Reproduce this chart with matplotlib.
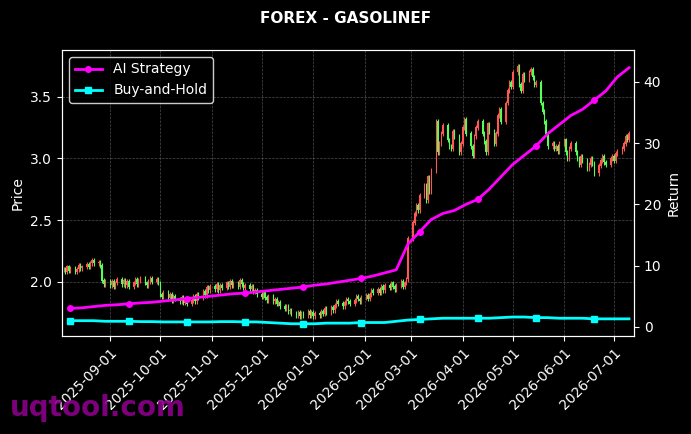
import numpy as np
import pandas as pd
import matplotlib
matplotlib.use("Agg")
import matplotlib.pyplot as plt
import matplotlib.dates as mdates

# daily closes, one row per week (Mon..Fri), starting 2025-08-04
closes = [
    2.10, 2.08, 2.12, 2.09, 2.11,  2.08, 2.10, 2.13, 2.11, 2.12,
    2.14, 2.12, 2.15, 2.17, 2.15,  2.16, 2.13, 2.01, 1.98, 2.00,
    1.97, 2.00, 1.96, 1.99, 2.02,  1.98, 2.01, 1.97, 2.00, 1.96,
    1.99, 2.02, 1.98, 2.01, 2.03,  1.99, 1.97, 2.00, 2.03, 2.00,
    2.02, 1.99, 1.90, 1.88, 1.91,  1.87, 1.90, 1.85, 1.88, 1.86,
    1.84, 1.87, 1.83, 1.86, 1.82,  1.85, 1.88, 1.84, 1.90, 1.87,
    1.92, 1.89, 1.95, 1.93, 1.96,  1.94, 1.98, 1.93, 1.97, 1.95,
    1.99, 1.96, 2.00, 1.97, 1.99,  1.96, 2.01, 1.98, 1.95, 1.97,
    1.94, 1.96, 1.92, 1.93, 1.90,  1.88, 1.91, 1.87, 1.85, 1.88,
    1.84, 1.86, 1.82, 1.83, 1.80,  1.78, 1.80, 1.76, 1.77, 1.74,
    1.73, 1.75, 1.72, 1.74, 1.73,  1.76, 1.73, 1.75, 1.72, 1.74,
    1.73, 1.76, 1.74, 1.78, 1.75,  1.79, 1.77, 1.81, 1.84, 1.82,
    1.80, 1.83, 1.86, 1.84, 1.82,  1.85, 1.88, 1.86, 1.84, 1.87,
    1.89, 1.86, 1.90, 1.93, 1.91,  1.94, 1.91, 1.96, 1.93, 1.97,
    1.95, 1.99, 1.96, 1.94, 1.97,  2.00, 1.96, 1.99, 2.02, 2.35,
    2.48, 2.55, 2.62, 2.58, 2.70,  2.78, 2.66, 2.85, 2.73, 2.90,
    3.30, 3.05, 3.12, 3.20, 3.27,  3.15, 3.10, 3.08, 3.22, 3.18,
    3.05, 3.12, 3.25, 3.32, 3.20,  3.10, 3.02, 3.18, 3.25, 3.30,
    3.20, 3.14, 3.05, 3.28, 3.22,  3.12, 3.20, 3.35, 3.40, 3.30,
    3.45, 3.55, 3.62, 3.58, 3.70,  3.75, 3.60, 3.55, 3.68, 3.64,
    3.70, 3.72, 3.66, 3.60, 3.62,  3.45, 3.38, 3.30, 3.20, 3.10,
    3.12, 3.08, 3.10, 3.06, 3.12,  3.15, 3.05, 3.00, 3.08, 3.12,
    3.05, 3.00, 2.95, 3.02, 2.98,  2.92, 2.95, 3.00, 2.96, 2.88,
    2.94, 2.98, 3.02, 2.97, 2.95,  3.00, 3.02, 2.98, 3.04, 3.06,
    3.08, 3.12, 3.18, 3.15, 3.20,
]

# weekly returns (Friday of each week)
ai_strategy = [3.0, 3.1, 3.3, 3.5, 3.6, 3.75, 3.9, 4.0, 4.2, 4.4, 4.6, 4.8,
               5.0, 5.2, 5.4, 5.5, 5.7, 5.9, 6.1, 6.3, 6.5, 6.8, 7.0, 7.3, 7.6,
               7.9, 8.3, 8.8, 9.3, 13.5, 15.5, 17.5, 18.5, 19.0, 20.0, 20.8, 22.5,
               24.5, 26.5, 28.0, 29.5, 31.5, 33.0, 34.5, 35.5, 37.0, 38.5, 40.8,
               42.3]
buy_hold = [1.0, 1.0, 1.0, 0.9, 0.9, 0.9, 0.85, 0.85, 0.8, 0.8, 0.8, 0.8,
            0.8, 0.85, 0.85, 0.8, 0.8, 0.7, 0.6, 0.5, 0.5, 0.5, 0.6, 0.6, 0.6,
            0.7, 0.7, 0.7, 0.9, 1.1, 1.2, 1.3, 1.4, 1.4, 1.4, 1.4, 1.4, 1.5,
            1.6, 1.6, 1.5, 1.5, 1.4, 1.4, 1.4, 1.3, 1.3, 1.3, 1.3]

days = pd.bdate_range("2025-08-04", periods=len(closes))
weeks = days[4::5][:len(ai_strategy)]

c = np.array(closes)
o = np.r_[c[0], c[:-1]]
hi = np.maximum(o, c) + 0.02
lo = np.minimum(o, c) - 0.02

plt.rcParams.update({"font.size": 10})
fig = plt.figure(figsize=(6.91, 4.34), dpi=100, facecolor="black")
ax = fig.add_axes([62 / 691, 1 - 336 / 434, 572 / 691, 286 / 434], facecolor="black")
ax2 = ax.twinx()

x = mdates.date2num(days)
col = np.where(c >= o, "#ff5555", "#55ff55")
ax.vlines(x, lo, hi, colors=col, lw=0.8)
ax.bar(x, np.abs(c - o) + 0.004, bottom=np.minimum(o, c), width=0.7, color=col)

ax2.plot(weeks, ai_strategy, color="magenta", lw=2, marker="o", ms=4, markevery=5, label="AI Strategy")
ax2.plot(weeks, buy_hold, color="cyan", lw=2, marker="s", ms=4, markevery=5, label="Buy-and-Hold")

ax.set_ylim(1.56, 3.88)
ax2.set_ylim(-1.5, 45.2)
ax.set_xlim(mdates.date2num(pd.Timestamp("2025-08-03")), mdates.date2num(pd.Timestamp("2026-07-13")))
ax.set_yticks([2.0, 2.5, 3.0, 3.5])
ax2.set_yticks([0, 10, 20, 30, 40])
ax.xaxis.set_major_locator(mdates.MonthLocator())
ax.xaxis.set_major_formatter(mdates.DateFormatter("%Y-%m-%d"))
plt.setp(ax.get_xticklabels(), rotation=45, ha="right", rotation_mode="anchor")
ax.grid(True, color="gray", ls="--", lw=0.5, alpha=0.6)

for a in (ax, ax2):
    a.tick_params(colors="white")
    for s in a.spines.values():
        s.set_color("white")
ax.set_ylabel("Price", color="white")
ax2.set_ylabel("Return", color="white")
fig.suptitle("FOREX - GASOLINEF", color="white", fontweight="bold", fontsize=11, y=0.975)

leg = ax2.legend(loc="upper left", facecolor="black", edgecolor="white", labelcolor="white")
fig.text(10 / 691, 1 - 408 / 434, "uqtool.com", color="#8b008b", fontsize=20,
         fontweight="bold", va="center", alpha=0.9)

fig.savefig("out.png", dpi=100, facecolor="black")
